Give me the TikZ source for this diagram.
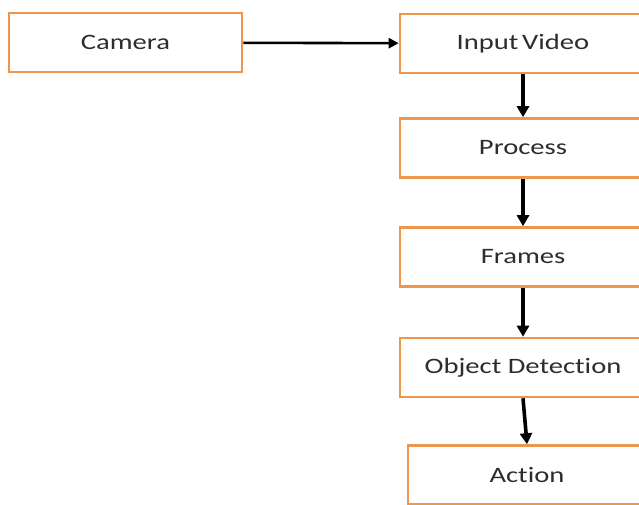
\documentclass[tikz,border=0pt]{standalone}
\usepackage{fontspec}
\setmainfont[FakeStretch=1.3, Ligatures=NoCommon]{Carlito}
\usetikzlibrary{arrows.meta}
\definecolor{boxorange}{RGB}{236,150,78}
\definecolor{textgray}{RGB}{45,45,45}
\begin{document}
\begin{tikzpicture}[x=1pt, y=-1pt,
    block/.style ={rectangle, draw=boxorange, fill=white, line width=2.6pt, minimum height=59pt, inner sep=0pt,
      font=\fontsize{22}{25}\selectfont, text=textgray},
    flow/.style ={line width=3.6pt, -{Triangle[length=11pt,width=12pt]}}]
   \useasboundingbox (0,0) rectangle (639,504);
   \node[block, minimum width=233pt] (camera)  at (125.5,42.5)  {Camera};
   \node[block, minimum width=246pt] (input)   at (523,43.5)    {Input\,Video};
   \node[block, minimum width=246pt] (process) at (523,148)     {Process};
   \node[block, minimum width=246pt] (frames)  at (523,257)     {Frames};
   \node[block, minimum width=246pt] (detect)  at (523,367.5)   {Object Detection};
   \node[block, minimum width=238pt] (action)  at (527,475)     {Action};

   \draw[line width=2.6pt, -{Triangle[length=10pt,width=10pt]}] (camera) to (input);
   \draw[flow] (input)  to (process);
   \draw[flow] (process) to (frames);
   \draw[flow] (frames) to (detect);
   \draw[flow] (detect.south) to (action.north);

 \end{tikzpicture}
\end{document}
